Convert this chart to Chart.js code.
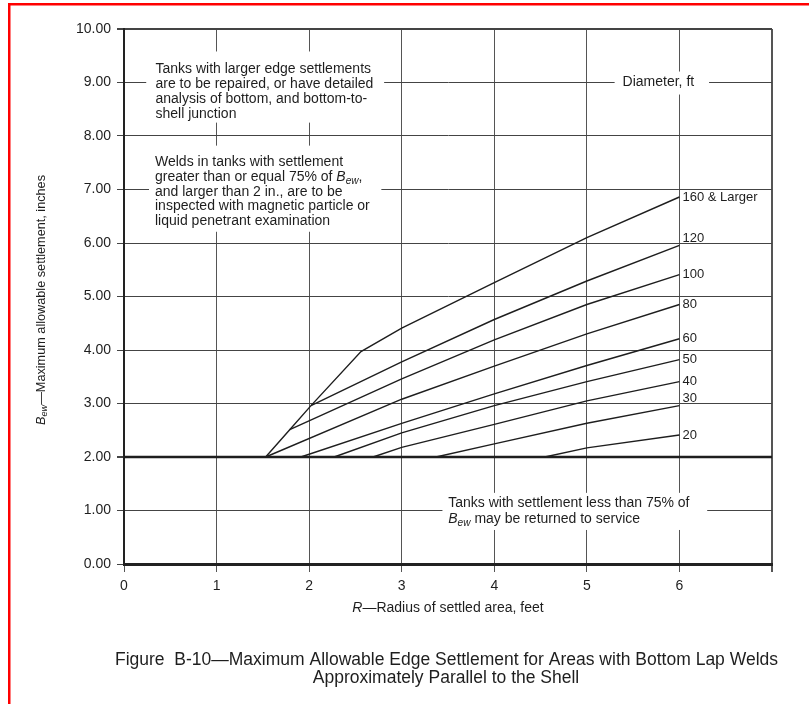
<!DOCTYPE html>
<html>
<head>
<meta charset="utf-8">
<script src="https://cdn.jsdelivr.net/npm/chart.js@4/dist/chart.umd.min.js"></script>
<style>
  body { margin: 0; background: #fff; }
  canvas { display: block; }
</style>
</head>
<body>
<canvas id="grafica" width="809" height="704"></canvas>
<script>
// Curvas por diametro del tanque (ft): radio R (ft) -> Bew (in)
const diametros = ['160 & Larger', '120', '100', '80', '60', '50', '40', '30', '20'];

const radio160 = [1.53, 1.79, 2.02, 2.56, 3, 4, 5, 6];
const bew160 = [2, 2.51, 2.96, 3.97, 4.41, 5.26, 6.10, 6.86];
const radio120 = [2.02, 3, 4, 5, 6];
const bew120 = [2.96, 3.78, 4.57, 5.29, 5.955];
const radio100 = [1.79, 3, 4, 5, 6];
const bew100 = [2.51, 3.46, 4.19, 4.85, 5.41];
const radio80 = [1.53, 3, 4, 5, 6];
const bew80 = [2, 3.08, 3.70, 4.30, 4.85];
const radio60 = [1.91, 3, 4, 5, 6];
const bew60 = [2, 2.63, 3.18, 3.71, 4.21];
const radio50 = [2.27, 3, 4, 5, 6];
const bew50 = [2, 2.45, 2.96, 3.41, 3.82];
const radio40 = [2.69, 3, 4, 5, 6];
const bew40 = [2, 2.18, 2.61, 3.05, 3.41];
const radio30 = [3.37, 4, 5, 6];
const bew30 = [2, 2.245, 2.63, 2.96];
const radio20 = [4.545, 5, 6];
const bew20 = [2, 2.17, 2.41];

// linea horizontal de 2 in
const radioBase = [0, 7];
const bewBase = [2, 2];

const radios = [radio160, radio120, radio100, radio80, radio60, radio50, radio40, radio30, radio20];
const valores = [bew160, bew120, bew100, bew80, bew60, bew50, bew40, bew30, bew20];

const ticksX = ['0', '1', '2', '3', '4', '5', '6', ''];

const fuente = '"Liberation Sans", Arial, Helvetica, sans-serif';
const tinta = '#1e1e1e';

// notas sobre la grafica (caja en unidades de datos)
const notas = [
  {caja: [0.24, 2.81, 9.58, 8.25], x: 0.34, y: 9.255, paso: 15, lineas: [
    [{t: 'Tanks with larger edge settlements'}],
    [{t: 'are to be repaired, or have detailed'}],
    [{t: 'analysis of bottom, and bottom-to-'}],
    [{t: 'shell junction'}]
  ]},
  {caja: [0.27, 2.78, 7.82, 6.21], x: 0.335, y: 7.515, paso: 14.85, lineas: [
    [{t: 'Welds in tanks with settlement'}],
    [{t: 'greater than or equal 75% of '}, {t: 'B', i: true}, {t: 'ew', i: true, sub: true}, {t: ','}],
    [{t: 'and larger than 2 in., are to be'}],
    [{t: 'inspected with magnetic particle or'}],
    [{t: 'liquid penetrant examination'}]
  ]},
  {caja: [5.30, 6.32, 9.205, 8.775], x: 5.386, y: 9.005, paso: 15, lineas: [
    [{t: 'Diameter, ft'}]
  ]},
  {caja: [3.44, 6.30, 1.33, 0.636], x: 3.503, y: 1.136, paso: 15.7, lineas: [
    [{t: 'Tanks with settlement less than 75% of'}],
    [{t: 'B', i: true}, {t: 'ew', i: true, sub: true}, {t: ' may be returned to service'}]
  ]}
];

function escribir(ctx, partes, x, y, size) {
  partes.forEach(p => {
    const s = p.sub ? size * 0.72 : size;
    ctx.font = (p.i ? 'italic ' : '') + s + 'px ' + fuente;
    ctx.fillText(p.t, x, y + (p.sub ? size * 0.3 : 0));
    x += ctx.measureText(p.t).width;
  });
  return x;
}

function ancho(ctx, partes, size) {
  let w = 0;
  partes.forEach(p => {
    const s = p.sub ? size * 0.72 : size;
    ctx.font = (p.i ? 'italic ' : '') + s + 'px ' + fuente;
    w += ctx.measureText(p.t).width;
  });
  return w;
}

const dibujos = {
  id: 'dibujos',
  beforeDatasetsDraw(chart) {
    const ctx = chart.ctx, sx = chart.scales.x, sy = chart.scales.y;
    ctx.save();
    notas.forEach(n => {
      const x0 = sx.getPixelForValue(n.caja[0]), x1 = sx.getPixelForValue(n.caja[1]);
      const y0 = sy.getPixelForValue(n.caja[2]), y1 = sy.getPixelForValue(n.caja[3]);
      ctx.fillStyle = '#fff';
      ctx.fillRect(x0, y0, x1 - x0, y1 - y0);
      ctx.fillStyle = tinta;
      ctx.textBaseline = 'middle';
      ctx.textAlign = 'left';
      const tx = sx.getPixelForValue(n.x), ty = sy.getPixelForValue(n.y);
      n.lineas.forEach((l, k) => escribir(ctx, l, tx, ty + k * n.paso, 14));
    });
    ctx.restore();
  },
  afterDraw(chart) {
    const ctx = chart.ctx, sx = chart.scales.x, sy = chart.scales.y;
    const area = chart.chartArea;
    ctx.save();
    ctx.fillStyle = tinta;
    ctx.textBaseline = 'middle';
    ctx.textAlign = 'left';

    // etiquetas de diametro al final de cada curva
    diametros.forEach((d, i) => {
      const ult = valores[i][valores[i].length - 1];
      const xr = radios[i][radios[i].length - 1];
      const ajuste = Math.abs(ult - Math.round(ult)) < 0.06 ? -7 : 0;
      ctx.font = '13px ' + fuente;
      ctx.fillText(d, sx.getPixelForValue(xr) + 3, sy.getPixelForValue(ult) + ajuste);
    });

    // titulo eje x
    const tituloX = [{t: 'R', i: true}, {t: '\u2014Radius of settled area, feet'}];
    const cx = (area.left + area.right) / 2;
    escribir(ctx, tituloX, cx - ancho(ctx, tituloX, 14) / 2, 608, 14);

    // titulo eje y
    const tituloY = [{t: 'B', i: true}, {t: 'ew', i: true, sub: true}, {t: '\u2014Maximum allowable settlement, inches'}];
    ctx.translate(41, 300);
    ctx.rotate(-Math.PI / 2);
    escribir(ctx, tituloY, -ancho(ctx, tituloY, 12.7) / 2, 0, 12.7);
    ctx.setTransform(1, 0, 0, 1, 0, 0);

    // pie de figura
    ctx.textAlign = 'center';
    ctx.font = '17.5px ' + fuente;
    ctx.fillText('Figure  B-10\u2014Maximum Allowable Edge Settlement for Areas with Bottom Lap Welds', 446.5, 660);
    ctx.fillText('Approximately Parallel to the Shell', 446, 678);

    // marco rojo
    ctx.fillStyle = '#ff0000';
    ctx.fillRect(8, 3, 801, 2.5);
    ctx.fillRect(8, 3, 2.5, 701);
    ctx.restore();
  }
};

const datasets = diametros.map((d, i) => ({
  label: d,
  data: radios[i].map((x, j) => ({x: x, y: valores[i][j]})),
  showLine: true,
  borderColor: tinta,
  borderWidth: 1.4,
  pointRadius: 0,
  fill: false
}));
datasets.push({
  label: 'base',
  data: radioBase.map((x, j) => ({x: x, y: bewBase[j]})),
  showLine: true,
  borderColor: tinta,
  borderWidth: 2.4,
  pointRadius: 0
});

var chart = new Chart(document.getElementById('grafica').getContext('2d'), {
  type: 'scatter',
  data: { datasets: datasets },
  options: {
    responsive: false,
    animation: false,
    layout: { padding: { left: 0, top: 29, right: 37, bottom: 0 } },
    plugins: { legend: { display: false }, tooltip: { enabled: false } },
    scales: {
      x: {
        type: 'linear', min: 0, max: 7,
        afterFit: s => { s.height = 140; },
        ticks: {
          stepSize: 1, padding: 6, color: tinta,
          font: { family: fuente, size: 14 },
          callback: v => ticksX[v]
        },
        grid: {
          color: '#555', tickLength: 8,
          lineWidth: c => (c.tick && c.tick.value === 7) ? 2 : 1
        },
        border: { display: true, color: '#222', width: 3 }
      },
      y: {
        type: 'linear', min: 0, max: 10,
        afterFit: s => { s.width = 124; },
        ticks: {
          stepSize: 1, padding: 6, color: tinta,
          font: { family: fuente, size: 14 },
          callback: v => v.toFixed(2)
        },
        grid: {
          color: '#444', tickLength: 7,
          lineWidth: c => (c.tick && (c.tick.value === 10 || c.tick.value === 2)) ? 2 : 1
        },
        border: { display: true, color: '#222', width: 2 }
      }
    }
  },
  plugins: [dibujos]
});
</script>
</body>
</html>
